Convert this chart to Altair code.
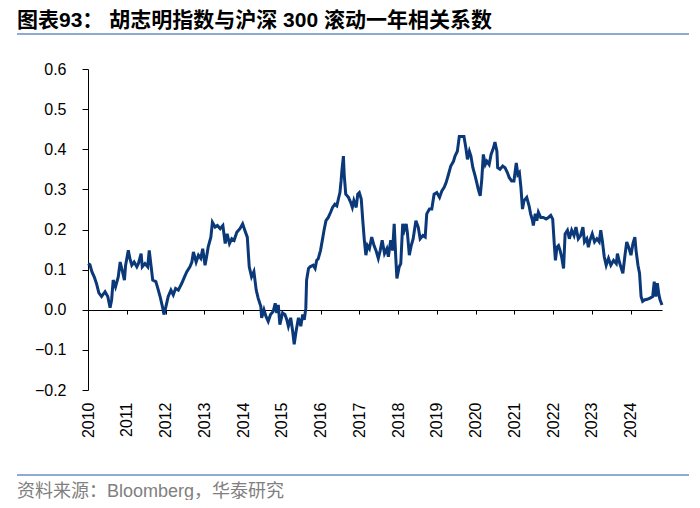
import altair as alt
import pandas as pd

# decimal-year positions, with rolling 1y correlation values
year_pos = [
    2010.00, 2010.05, 2010.10, 2010.16, 2010.22, 2010.28, 2010.35, 2010.44, 2010.51, 2010.57,
    2010.61, 2010.65, 2010.71, 2010.78, 2010.83, 2010.89, 2010.94, 2010.97, 2011.04, 2011.08,
    2011.13, 2011.19, 2011.26, 2011.30, 2011.37, 2011.40, 2011.47, 2011.54, 2011.58, 2011.63,
    2011.67, 2011.75, 2011.80, 2011.86, 2011.92, 2011.96, 2012.01, 2012.07, 2012.14, 2012.20,
    2012.26, 2012.33, 2012.42, 2012.49, 2012.55, 2012.63, 2012.68, 2012.72, 2012.79, 2012.85,
    2012.91, 2012.96, 2013.02, 2013.06, 2013.10, 2013.17, 2013.21, 2013.28, 2013.34, 2013.41,
    2013.48, 2013.54, 2013.59, 2013.65, 2013.71, 2013.77, 2013.84, 2013.92, 2013.99, 2014.05,
    2014.11, 2014.16, 2014.22, 2014.28, 2014.34, 2014.39, 2014.46, 2014.48, 2014.54, 2014.59,
    2014.65, 2014.71, 2014.78, 2014.83, 2014.87, 2014.91, 2014.95, 2015.02, 2015.08, 2015.13,
    2015.17, 2015.23, 2015.28, 2015.32, 2015.37, 2015.43, 2015.49, 2015.54, 2015.58, 2015.62,
    2015.64, 2015.69, 2015.73, 2015.81, 2015.86, 2015.90, 2015.94, 2016.00, 2016.06, 2016.09,
    2016.14, 2016.20, 2016.26, 2016.31, 2016.37, 2016.42, 2016.46, 2016.50, 2016.53, 2016.55,
    2016.59, 2016.61, 2016.65, 2016.72, 2016.78, 2016.82, 2016.86, 2016.92, 2016.96, 2017.00,
    2017.05, 2017.09, 2017.13, 2017.17, 2017.21, 2017.26, 2017.32, 2017.38, 2017.43, 2017.49,
    2017.54, 2017.59, 2017.65, 2017.71, 2017.75, 2017.81, 2017.86, 2017.90, 2017.94, 2017.97,
    2018.03, 2018.07, 2018.12, 2018.16, 2018.21, 2018.24, 2018.29, 2018.34, 2018.39, 2018.46,
    2018.52, 2018.57, 2018.64, 2018.70, 2018.74, 2018.81, 2018.87, 2018.93, 2019.00, 2019.07,
    2019.13, 2019.19, 2019.24, 2019.30, 2019.36, 2019.43, 2019.47, 2019.53, 2019.58, 2019.64,
    2019.70, 2019.75, 2019.79, 2019.84, 2019.88, 2019.93, 2019.99, 2020.03, 2020.07, 2020.12,
    2020.16, 2020.20, 2020.25, 2020.29, 2020.35, 2020.40, 2020.46, 2020.50, 2020.55, 2020.57,
    2020.63, 2020.70, 2020.76, 2020.82, 2020.87, 2020.93, 2020.99, 2021.05, 2021.09, 2021.13,
    2021.17, 2021.21, 2021.25, 2021.32, 2021.38, 2021.42, 2021.47, 2021.49, 2021.54, 2021.58,
    2021.62, 2021.68, 2021.75, 2021.82, 2021.88, 2021.94, 2021.99, 2022.03, 2022.06, 2022.10,
    2022.14, 2022.18, 2022.22, 2022.27, 2022.31, 2022.37, 2022.42, 2022.48, 2022.54, 2022.59,
    2022.65, 2022.71, 2022.77, 2022.81, 2022.87, 2022.91, 2022.95, 2023.01, 2023.07, 2023.13,
    2023.19, 2023.23, 2023.27, 2023.32, 2023.37, 2023.43, 2023.49, 2023.56, 2023.63, 2023.66,
    2023.71, 2023.76, 2023.80, 2023.86, 2023.90, 2023.95, 2024.01, 2024.06, 2024.11, 2024.14,
    2024.19, 2024.23, 2024.27, 2024.31, 2024.37, 2024.43, 2024.50, 2024.57, 2024.61, 2024.65,
    2024.69, 2024.73, 2024.76, 2024.81,
]

corr = [
    0.115, 0.112, 0.095, 0.082, 0.065, 0.042, 0.033, 0.045, 0.033, 0.005,
    0.025, 0.074, 0.057, 0.082, 0.119, 0.095, 0.074, 0.111, 0.148, 0.128,
    0.111, 0.119, 0.107, 0.115, 0.140, 0.107, 0.115, 0.107, 0.148, 0.107,
    0.074, 0.070, 0.054, 0.033, 0.008, -0.012, 0.008, 0.033, 0.049, 0.037,
    0.053, 0.049, 0.066, 0.082, 0.095, 0.107, 0.119, 0.144, 0.119, 0.136,
    0.128, 0.152, 0.111, 0.132, 0.156, 0.181, 0.218, 0.206, 0.210, 0.202,
    0.210, 0.165, 0.189, 0.165, 0.177, 0.173, 0.193, 0.202, 0.214, 0.197,
    0.181, 0.107, 0.082, 0.095, 0.049, 0.029, 0.008, -0.020, 0.000, -0.016,
    -0.029, -0.012, -0.004, 0.016, -0.008, 0.012, -0.037, -0.008, -0.012, -0.025,
    -0.041, -0.020, -0.053, -0.086, -0.053, -0.020, -0.041, -0.012, -0.025, 0.004,
    0.074, 0.103, 0.107, 0.111, 0.103, 0.123, 0.127, 0.148, 0.181, 0.198,
    0.222, 0.230, 0.243, 0.255, 0.263, 0.259, 0.276, 0.292, 0.321, 0.346,
    0.383, 0.337, 0.288, 0.280, 0.267, 0.255, 0.272, 0.255, 0.288, 0.292,
    0.276, 0.222, 0.173, 0.136, 0.160, 0.152, 0.181, 0.160, 0.148, 0.128,
    0.148, 0.173, 0.140, 0.152, 0.132, 0.173, 0.148, 0.214, 0.132, 0.078,
    0.107, 0.115, 0.214, 0.198, 0.214, 0.193, 0.136, 0.160, 0.177, 0.222,
    0.206, 0.177, 0.185, 0.181, 0.239, 0.251, 0.251, 0.288, 0.292, 0.280,
    0.296, 0.305, 0.317, 0.337, 0.358, 0.370, 0.383, 0.395, 0.432, 0.432,
    0.432, 0.403, 0.375, 0.395, 0.383, 0.354, 0.333, 0.317, 0.300, 0.284,
    0.325, 0.387, 0.362, 0.370, 0.362, 0.387, 0.403, 0.418, 0.395, 0.354,
    0.350, 0.358, 0.354, 0.342, 0.329, 0.321, 0.321, 0.366, 0.337, 0.342,
    0.305, 0.251, 0.272, 0.280, 0.259, 0.239, 0.222, 0.210, 0.239, 0.222,
    0.243, 0.230, 0.230, 0.226, 0.230, 0.235, 0.226, 0.165, 0.123, 0.156,
    0.160, 0.148, 0.132, 0.103, 0.189, 0.198, 0.177, 0.198, 0.185, 0.206,
    0.177, 0.185, 0.206, 0.169, 0.177, 0.156, 0.173, 0.189, 0.169, 0.177,
    0.169, 0.198, 0.173, 0.132, 0.111, 0.128, 0.111, 0.123, 0.115, 0.140,
    0.119, 0.103, 0.091, 0.140, 0.169, 0.156, 0.136, 0.165, 0.181, 0.148,
    0.111, 0.091, 0.033, 0.021, 0.025, 0.026, 0.029, 0.033, 0.070, 0.033,
    0.066, 0.037, 0.025, 0.012,
]

year_ticks = list(range(2010, 2025))
y_ticks = [-0.2, -0.1, 0.0, 0.1, 0.2, 0.3, 0.4, 0.5, 0.6]

title_text = "图表93：  胡志明指数与沪深 300 滚动一年相关系数"
source_text = "资料来源：Bloomberg，华泰研究"

df = pd.DataFrame({"t": year_pos, "v": corr})

FONT = "Liberation Sans, Arial, Noto Sans CJK SC, sans-serif"
LINE_COLOR = "#0A3878"
RULE_COLOR = "#8FAAD2"

x_scale = alt.Scale(domain=[2010, 2024.81], nice=False, zero=False)
y_scale = alt.Scale(domain=[-0.2, 0.6], nice=False, zero=False)

y_axis = alt.Axis(
    values=y_ticks, format=".1f", grid=False, title=None,
    domainColor="black", domainWidth=1, tickColor="black", tickSize=6, tickWidth=1,
    labelPadding=16, labelFontSize=16, labelColor="black", labelFont=FONT,
)

label_axis = alt.Axis(
    values=year_ticks, format="d", labelAngle=270, labelAlign="right",
    labelBaseline="middle", domain=False, ticks=False, labelPadding=12,
    labelFontSize=16, labelColor="black", labelFont=FONT, grid=False, title=None,
    orient="bottom", labelFlush=False, labelOverlap=False,
)

tick_axis = alt.Axis(
    values=year_ticks, labels=False, domain=True, ticks=True, tickSize=4,
    domainColor="black", domainWidth=1, tickColor="black", tickWidth=1,
    offset=-80, orient="bottom", grid=False, title=None,
)

labels_layer = alt.Chart(df).mark_line(opacity=0).encode(
    x=alt.X("t:Q", scale=x_scale, axis=label_axis),
    y=alt.Y("v:Q", scale=y_scale, axis=y_axis),
)

line_layer = alt.Chart(df).mark_line(color=LINE_COLOR, strokeWidth=3).encode(
    x=alt.X("t:Q", scale=x_scale, axis=tick_axis),
    y=alt.Y("v:Q", scale=y_scale, axis=y_axis),
)

title_layer = alt.Chart(pd.DataFrame({"s": [title_text]})).mark_text(
    align="left", baseline="middle", fontSize=21, fontWeight="bold",
    font=FONT, color="black",
).encode(text="s:N", x=alt.value(-71), y=alt.value(-48))

source_layer = alt.Chart(pd.DataFrame({"s": [source_text]})).mark_text(
    align="left", baseline="middle", fontSize=18, font=FONT, color="#808080",
).encode(text="s:N", x=alt.value(-71), y=alt.value(423))

top_rule = alt.Chart(pd.DataFrame({"a": [0]})).mark_rule(
    color=RULE_COLOR, strokeWidth=2
).encode(x=alt.value(-71), x2=alt.value(601), y=alt.value(-35))

bottom_rule = alt.Chart(pd.DataFrame({"a": [0]})).mark_rule(
    color=RULE_COLOR, strokeWidth=2
).encode(x=alt.value(-71), x2=alt.value(601), y=alt.value(406))

chart = (
    alt.layer(labels_layer, line_layer, title_layer, source_layer, top_rule, bottom_rule)
    .resolve_axis(x="independent")
    .properties(
        width=574, height=321,
        autosize=alt.AutoSizeParams(type="none"),
        padding={"left": 80, "top": 61, "right": 30, "bottom": 110},
        background="white",
    )
    .configure_view(stroke=None)
)

chart.save("out.html", embed_options={"renderer": "svg", "actions": False})
